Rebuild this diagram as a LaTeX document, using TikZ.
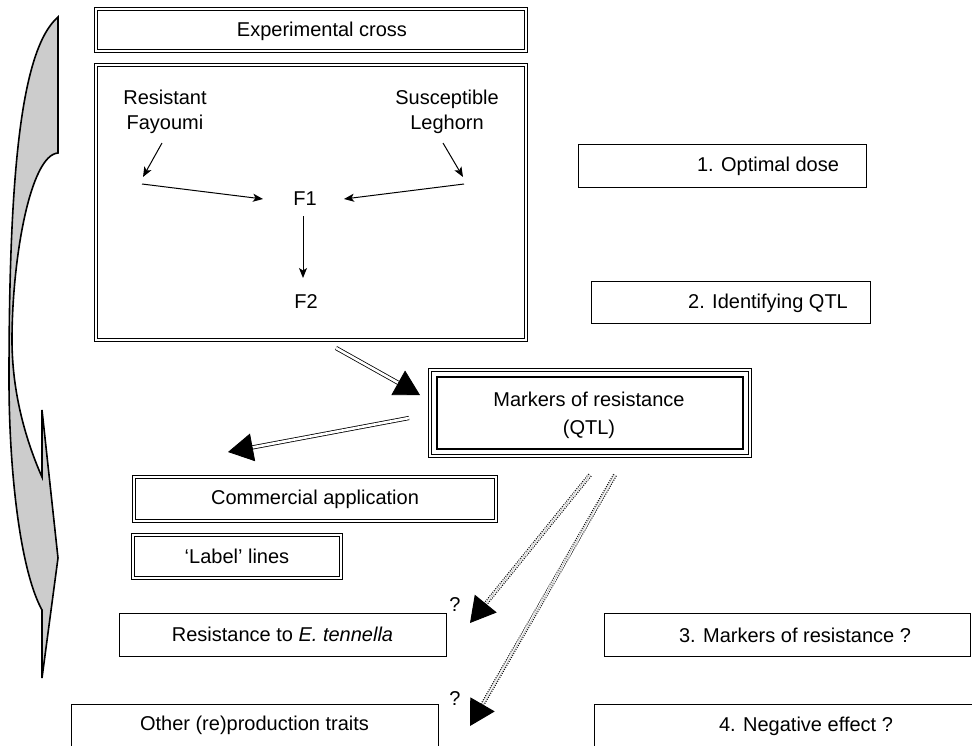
\documentclass[tikz,border=0pt]{standalone}
\usepackage{fontspec}
\setmainfont{Liberation Sans}
\usetikzlibrary{arrows.meta}
\definecolor{bandgray}{HTML}{CCCCCC}
\begin{document}
\begin{tikzpicture}[x=1pt,y=-1pt,
  every node/.style={font=\fontsize{20}{25}\selectfont, inner sep=0pt, align=center},
  dblbox/.style={draw, double, double distance=2.8pt, line width=0.8pt},
  plainbox/.style={draw, line width=1pt},
  smallarrow/.style={line width=1pt, -{Stealth[length=10pt,width=8pt,inset=2.5pt]}},
  bigarrow/.style={double, double distance=2.6pt, line width=0.8pt, -{Triangle[length=25pt,width=28pt]}},
  dotarrow/.style={double, double distance=2.2pt, line width=1pt, dash pattern=on 1pt off 1.3pt, -{Triangle[length=25pt,width=28pt]}},
]
\useasboundingbox (0,0) rectangle (972,745);

% curved band arrow on the left
\draw[line width=1.6pt, fill=bandgray, line join=miter]
  (58,17) -- (58,153)
  .. controls (30,155) and (12,260) .. (12,340)
  .. controls (12,400) and (30,450) .. (42,477)
  -- (42,410) -- (58,558) -- (42,678) -- (42,610)
  .. controls (20,570) and (9,470) .. (9,380)
  .. controls (9,180) and (20,50) .. (58,17) -- cycle;

% experimental cross
\node[dblbox, minimum width=430pt, minimum height=42pt] (cross) at (311,30) {};
\node (crosstext) at (322,31) {Experimental cross};
\node[dblbox, minimum width=430pt, minimum height=275pt] (crossbox) at (311,202.5) {};

\node (res) at (165,112) {Resistant\\Fayoumi};
\node (sus) at (447,112) {Susceptible\\Leghorn};
\node (F1) at (305,199) {F1};
\node (F2) at (306,302) {F2};

\coordinate (r1) at (162,143);
\coordinate (r2) at (143,177);
\coordinate (r3) at (142,184);
\coordinate (r4) at (263,199);
\coordinate (s1) at (443,143);
\coordinate (s2) at (463,177);
\coordinate (s3) at (464,184);
\coordinate (s4) at (344,199);
\coordinate (f1) at (303,216);
\coordinate (f2) at (303,278);

\draw[smallarrow] (r1) -- (r2);
\draw[smallarrow] (s1) -- (s2);
\draw[smallarrow] (r3) -- (r4);
\draw[smallarrow] (s3) -- (s4);
\draw[smallarrow] (f1) -- (f2);

% steps on the right
\node[plainbox, minimum width=288pt, minimum height=43pt] (step1) at (722,165.5) {};
\node (step1text) at (768,166) {1. Optimal dose};
\node[plainbox, minimum width=279pt, minimum height=42pt] (step2) at (730.5,302) {};
\node (step2text) at (768,303) {2. Identifying QTL};
\node[plainbox, minimum width=366pt, minimum height=43pt] (step3) at (787,634.5) {};
\node (step3text) at (795,635) {3. Markers of resistance ?};
\node[plainbox, minimum width=378pt, minimum height=43pt] (step4) at (783,725.5) {};
\node (step4text) at (806,726) {4. Negative effect ?};

% markers of resistance
\node[dblbox, minimum width=320pt, minimum height=86pt] (mk) at (590,413) {};
\draw[line width=2pt] ([shift={(7,7)}]mk.north west) rectangle ([shift={(-7,-7)}]mk.south east);
\node[font=\fontsize{20}{28}\selectfont] (mktext) at (589,415) {Markers of resistance\\(QTL)};

% applications
\node[dblbox, minimum width=362pt, minimum height=44pt] (comm) at (315,499) {Commercial application};
\node[dblbox, minimum width=208pt, minimum height=43pt] (label) at (237,556.5) {`Label' lines};
\node[plainbox, minimum width=327pt, minimum height=43pt] (resist) at (282.5,634.5) {Resistance to \textit{E. tennella}};
\node[plainbox, minimum width=367pt, minimum height=43pt] (other) at (254.5,725.5) {Other (re)production traits};

\node (q1) at (455,605) {?};
\node (q2) at (455,699) {?};

% big arrows
\coordinate (a1s) at (336,348);
\coordinate (a1e) at (420,395);
\coordinate (a2s) at (409,418);
\coordinate (a2e) at (228,452);
\draw[bigarrow] (a1s) -- (a1e);
\draw[bigarrow] (a2s) -- (a2e);

% dotted arrows
\coordinate (d1s) at (590,475);
\coordinate (d1e) at (470,623);
\coordinate (d2s) at (615,475);
\coordinate (d2e) at (470,726);
\draw[dotarrow] (d1s) -- (d1e);
\draw[dotarrow] (d2s) -- (d2e);
\end{tikzpicture}
\end{document}
